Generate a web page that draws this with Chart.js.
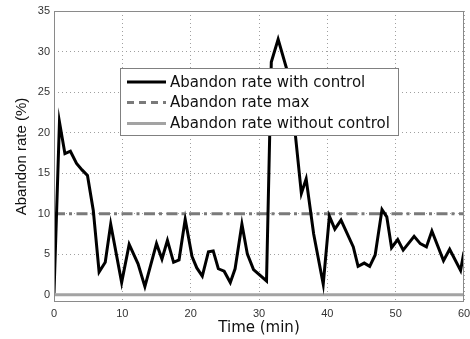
<!DOCTYPE html>
<html>
<head>
<meta charset="utf-8">
<script src="https://cdn.jsdelivr.net/npm/chart.js@4.4.1/dist/chart.umd.min.js"></script>
<style>
  body { margin: 0; background: #fff; }
  #wrap { width: 470px; height: 339px; }
</style>
</head>
<body>
<div id="wrap"><canvas id="rateChart" width="470" height="339"></canvas></div>
<script>
// time (min) of each sample and the abandon rate (%)
const timeMin = [0, 0.8, 1.6, 2.4, 3.3, 4.1, 4.9, 5.75, 6.6, 7.5, 8.3, 9.9, 11.0, 12.3, 13.3, 15.0,
    15.8, 16.6, 17.5, 18.3, 19.2, 20.2, 20.9, 21.7, 22.6, 23.3, 24.05, 24.9, 25.8, 26.5, 27.5,
    28.3, 29.2, 31.1, 31.8, 32.8, 34.1, 35.3, 36.2, 36.9, 38.0, 39.4, 40.3, 41.1, 42.0, 43.8,
    44.5, 45.4, 46.2, 47.0, 48.0, 48.7, 49.4, 50.3, 51.1, 52.7, 53.6, 54.5, 55.3, 57.0, 57.9,
    59.5, 60];
const rateWithControl = [0.2, 21.3, 17.4, 17.7, 16.2, 15.4, 14.7, 10.4, 2.8, 4.0, 8.7, 1.5, 6.2, 3.8, 1.0, 6.3,
    4.4, 6.7, 4.0, 4.3, 9.3, 4.7, 3.3, 2.3, 5.3, 5.4, 3.2, 2.9, 1.5, 3.2, 8.7,
    5.0, 3.1, 1.7, 28.7, 31.5, 27.7, 19.9, 12.5, 14.3, 7.5, 1.3, 9.7, 8.1, 9.2, 5.9,
    3.5, 3.9, 3.5, 4.9, 10.5, 9.6, 5.8, 6.8, 5.5, 7.2, 6.3, 5.9, 7.85, 4.2, 5.6,
    3.0, 5.3];
const limitTime = [0, 60];
const rateMax = [10, 10];
const rateWithoutControl = [0, 0];

const seriesNames = ["Abandon rate with control", "Abandon rate max", "Abandon rate without control"];
const xTicks = [0, 10, 20, 30, 40, 50, 60];
const yTicks = [0, 5, 10, 15, 20, 25, 30, 35];

function toPoints(xs, ys) {
    return xs.map((x, i) => ({ x: x, y: ys[i] }));
}

const legendLines = [
    { color: "#000000", dash: [] },
    { color: "#7a7a7a", dash: [7, 5] },
    { color: "#a3a3a3", dash: [] }
];

// matlab style box legend inside the axes
const boxLegend = {
    id: "boxLegend",
    afterDatasetsDraw(chart) {
        const ctx = chart.ctx;
        const left = 120.5, top = 68.5, w = 278, h = 67;
        ctx.save();
        ctx.fillStyle = "#ffffff";
        ctx.fillRect(left, top, w, h);
        ctx.strokeStyle = "#808080";
        ctx.lineWidth = 1;
        ctx.strokeRect(left, top, w, h);
        const rows = [82, 102.5, 123.5];
        chart.data.datasets.forEach((ds, i) => {
            ctx.beginPath();
            ctx.setLineDash(legendLines[i].dash);
            ctx.strokeStyle = legendLines[i].color;
            ctx.lineWidth = 3;
            ctx.moveTo(127, rows[i]);
            ctx.lineTo(166, rows[i]);
            ctx.stroke();
            ctx.setLineDash([]);
            ctx.fillStyle = "#111111";
            ctx.font = "15px 'DejaVu Sans'";
            ctx.textBaseline = "middle";
            ctx.fillText(ds.label, 170, rows[i] + 1);
        });
        ctx.restore();
    }
};

const axesBox = {
    id: "axesBox",
    afterDraw(chart) {
        const a = chart.chartArea;
        const ctx = chart.ctx;
        ctx.save();
        ctx.strokeStyle = "#8a8a8a";
        ctx.lineWidth = 1;
        ctx.strokeRect(Math.round(a.left) + 0.5, Math.round(a.top) + 0.5,
            Math.round(a.right - a.left) - 1, Math.round(a.bottom - a.top) - 1);
        ctx.restore();
    }
};

new Chart(document.getElementById("rateChart"), {
    type: "line",
    data: {
        datasets: [
            {
                label: seriesNames[0],
                data: toPoints(timeMin, rateWithControl),
                borderColor: "#000000",
                borderWidth: 3,
                pointRadius: 0,
                tension: 0,
                fill: false
            },
            {
                label: seriesNames[1],
                data: toPoints(limitTime, rateMax),
                borderColor: "#7a7a7a",
                borderWidth: 3,
                borderDash: [11, 4, 3, 4.5],
                pointRadius: 0,
                fill: false
            },
            {
                label: seriesNames[2],
                data: toPoints(limitTime, rateWithoutControl),
                borderColor: "#a3a3a3",
                borderWidth: 3,
                pointRadius: 0,
                fill: false
            }
        ]
    },
    options: {
        responsive: false,
        animation: false,
        layout: { padding: { top: 11, right: 6, left: 0, bottom: 0 } },
        plugins: {
            legend: { display: false },
            tooltip: { enabled: false }
        },
        scales: {
            x: {
                type: "linear",
                min: 0,
                max: 60,
                afterBuildTicks: s => { s.ticks = xTicks.map(v => ({ value: v })); },
                afterFit: s => { s.height = 37; s.paddingLeft = 0; s.paddingRight = 0; },
                ticks: {
                    color: "#333333",
                    font: { family: "'Liberation Sans', Arial", size: 11 },
                    padding: 5,
                    maxRotation: 0
                },
                grid: { color: "#a0a0a0", lineWidth: 1, drawTicks: false },
                border: { display: false, dash: [1, 3] },
                title: {
                    display: true,
                    text: "Time (min)",
                    color: "#111111",
                    font: { family: "'DejaVu Sans'", size: 15 },
                    padding: { top: 0, bottom: 2 }
                }
            },
            y: {
                min: -0.9,
                max: 35,
                afterBuildTicks: s => { s.ticks = yTicks.map(v => ({ value: v })); },
                afterFit: s => { s.width = 54; s.paddingTop = 0; s.paddingBottom = 0; },
                ticks: {
                    color: "#333333",
                    font: { family: "'Liberation Sans', Arial", size: 11 },
                    padding: 4
                },
                grid: { color: "#a0a0a0", lineWidth: 1, drawTicks: false },
                border: { display: false, dash: [1, 3] },
                title: {
                    display: true,
                    text: "Abandon rate (%)",
                    color: "#111111",
                    font: { family: "'Liberation Sans', Arial", size: 15 },
                    padding: { top: 13, bottom: 0 }
                }
            }
        }
    },
    plugins: [boxLegend, axesBox]
});
</script>
</body>
</html>
